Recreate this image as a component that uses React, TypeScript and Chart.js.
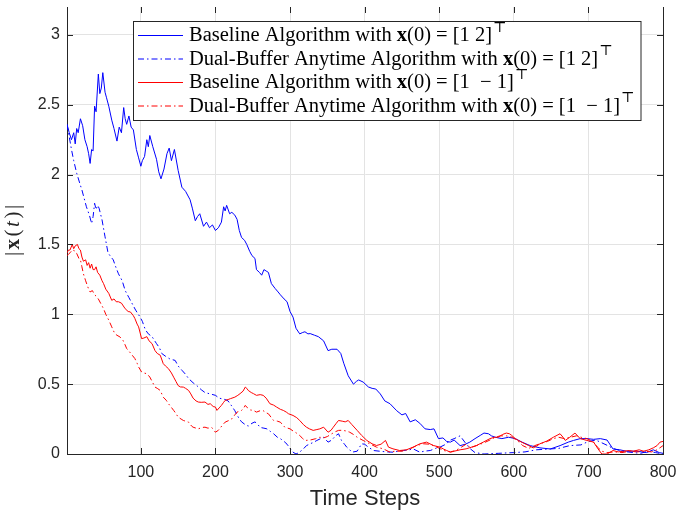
import React, { useEffect, useRef } from 'react';
import { Chart, registerables } from 'chart.js';

Chart.register(...registerables);

// ---------- data ----------
const xTickValues = [100, 200, 300, 400, 500, 600, 700, 800];
const yTickValues = [0, 0.5, 1, 1.5, 2, 2.5, 3];

const blueSolidSteps = [1, 4, 7, 10, 12, 14, 16, 19, 22, 25, 28, 30, 32, 34, 36, 38, 40, 43, 45, 47, 49, 52, 54, 57, 61, 64, 68, 71, 74, 77, 79, 81, 84, 87, 90, 94, 97, 100, 102, 105, 108, 110, 112, 116, 121, 124, 127, 131, 135, 138, 141, 145, 150, 155, 160, 166, 169, 173, 176, 179, 184, 188, 192, 196, 200, 204, 208, 211, 213, 215, 219, 222, 226, 229, 232, 235, 239, 242, 246, 249, 253, 255, 259, 262, 265, 268, 271, 275, 280, 284, 287, 292, 296, 300, 304, 308, 313, 317, 320, 324, 327, 333, 338, 345, 351, 356, 363, 368, 372, 378, 385, 389, 392, 398, 405, 410, 415, 421, 427, 434, 443, 450, 455, 461, 468, 474, 481, 488, 493, 499, 505, 510, 515, 520, 528, 535, 541, 548, 555, 560, 566, 570, 575, 584, 593, 602, 611, 622, 635, 649, 662, 673, 680, 689, 698, 707, 716, 725, 733, 742, 751, 765, 778, 787, 795, 800];
const blueSolidValues = [2.36, 2.30, 2.25, 2.30, 2.22, 2.33, 2.30, 2.40, 2.35, 2.25, 2.20, 2.15, 2.08, 2.18, 2.17, 2.49, 2.45, 2.72, 2.58, 2.62, 2.73, 2.59, 2.55, 2.49, 2.39, 2.33, 2.24, 2.34, 2.30, 2.48, 2.40, 2.36, 2.42, 2.34, 2.32, 2.18, 2.12, 2.06, 2.10, 2.13, 2.25, 2.20, 2.28, 2.20, 2.11, 2.02, 1.97, 2.04, 2.15, 2.19, 2.10, 2.18, 2.03, 1.91, 1.88, 1.82, 1.76, 1.67, 1.70, 1.72, 1.63, 1.66, 1.62, 1.64, 1.60, 1.62, 1.66, 1.77, 1.74, 1.78, 1.72, 1.73, 1.71, 1.68, 1.60, 1.55, 1.53, 1.50, 1.45, 1.42, 1.40, 1.32, 1.30, 1.28, 1.32, 1.31, 1.30, 1.22, 1.185, 1.16, 1.14, 1.11, 1.09, 1.02, 0.98, 0.90, 0.86, 0.87, 0.875, 0.86, 0.862, 0.85, 0.84, 0.81, 0.74, 0.75, 0.75, 0.72, 0.65, 0.56, 0.50, 0.52, 0.53, 0.515, 0.48, 0.47, 0.465, 0.43, 0.38, 0.36, 0.31, 0.28, 0.29, 0.23, 0.245, 0.22, 0.18, 0.175, 0.18, 0.11, 0.115, 0.09, 0.085, 0.10, 0.06, 0.07, 0.085, 0.11, 0.133, 0.15, 0.145, 0.13, 0.12, 0.11, 0.12, 0.11, 0.085, 0.06, 0.044, 0.036, 0.06, 0.085, 0.097, 0.11, 0.11, 0.105, 0.11, 0.10, 0.036, 0.03, 0.02, 0.02, 0.01, 0.03, 0.01, 0.005];

const blueDashSteps = [1, 4, 7, 10, 14, 18, 21, 24, 27, 31, 34, 36, 38, 40, 42, 44, 48, 52, 56, 60, 63, 67, 70, 75, 79, 84, 88, 93, 99, 102, 106, 110, 115, 121, 125, 128, 133, 139, 146, 150, 155, 160, 164, 170, 175, 181, 186, 193, 200, 205, 209, 213, 217, 221, 226, 231, 235, 240, 244, 249, 253, 257, 260, 265, 269, 274, 278, 283, 287, 292, 296, 300, 304, 308, 312, 318, 322, 327, 332, 336, 341, 345, 351, 356, 361, 365, 369, 373, 376, 380, 383, 390, 396, 400, 405, 412, 420, 430, 438, 445, 452, 460, 465, 474, 480, 488, 495, 501, 510, 514, 520, 528, 535, 541, 548, 560, 580, 600, 615, 630, 645, 660, 675, 690, 700, 710, 718, 726, 733, 745, 760, 770, 780, 790, 800];
const blueDashValues = [2.36, 2.27, 2.18, 2.10, 2.01, 1.94, 1.89, 1.83, 1.77, 1.71, 1.65, 1.70, 1.795, 1.75, 1.78, 1.76, 1.675, 1.555, 1.44, 1.41, 1.39, 1.33, 1.29, 1.24, 1.17, 1.12, 1.08, 1.03, 0.98, 0.95, 0.89, 0.86, 0.84, 0.79, 0.76, 0.72, 0.70, 0.68, 0.67, 0.63, 0.60, 0.57, 0.54, 0.51, 0.49, 0.46, 0.44, 0.43, 0.42, 0.40, 0.395, 0.39, 0.38, 0.35, 0.31, 0.26, 0.23, 0.21, 0.20, 0.22, 0.23, 0.21, 0.19, 0.185, 0.18, 0.16, 0.145, 0.12, 0.11, 0.09, 0.07, 0.04, 0.013, 0.0, 0.01, 0.037, 0.06, 0.073, 0.085, 0.097, 0.11, 0.12, 0.085, 0.10, 0.13, 0.145, 0.097, 0.07, 0.049, 0.03, 0.013, 0.02, 0.073, 0.07, 0.049, 0.025, 0.02, 0.015, 0.013, 0.02, 0.025, 0.03, 0.037, 0.013, 0.02, 0.025, 0.04, 0.049, 0.073, 0.097, 0.11, 0.13, 0.08, 0.04, 0.01, 0.0, 0.005, 0.01, 0.015, 0.03, 0.035, 0.04, 0.06, 0.065, 0.09, 0.10, 0.08, 0.06, 0.04, 0.02, 0.01, 0.005, 0.02, 0.01, 0.0];

const redSolidSteps = [1, 3, 5, 8, 10, 12, 15, 17, 19, 21, 23, 26, 28, 30, 32, 34, 36, 38, 40, 42, 45, 48, 50, 53, 57, 61, 64, 67, 70, 74, 79, 83, 86, 90, 92, 95, 97, 101, 104, 108, 111, 115, 119, 122, 126, 130, 133, 137, 141, 144, 147, 150, 153, 157, 160, 164, 167, 170, 174, 177, 181, 186, 190, 193, 197, 200, 202, 205, 208, 211, 213, 217, 220, 226, 230, 233, 237, 240, 242, 244, 248, 251, 255, 260, 264, 268, 273, 278, 282, 287, 291, 295, 298, 304, 309, 313, 318, 322, 326, 331, 336, 340, 345, 351, 355, 358, 362, 365, 370, 374, 378, 383, 390, 396, 403, 410, 416, 422, 428, 432, 438, 447, 456, 465, 474, 483, 492, 501, 506, 510, 515, 520, 528, 536, 541, 550, 559, 568, 574, 579, 585, 590, 594, 597, 602, 606, 615, 620, 626, 630, 635, 644, 653, 662, 666, 669, 675, 682, 689, 698, 707, 713, 718, 725, 733, 740, 747, 755, 760, 768, 774, 781, 787, 792, 796, 800];
const redSolidValues = [1.44, 1.46, 1.46, 1.50, 1.47, 1.49, 1.50, 1.47, 1.46, 1.41, 1.38, 1.39, 1.35, 1.37, 1.33, 1.36, 1.32, 1.32, 1.34, 1.30, 1.28, 1.24, 1.22, 1.18, 1.15, 1.10, 1.11, 1.09, 1.09, 1.08, 1.04, 1.02, 1.017, 0.99, 0.97, 0.93, 0.91, 0.826, 0.83, 0.84, 0.81, 0.79, 0.74, 0.72, 0.707, 0.647, 0.63, 0.611, 0.58, 0.55, 0.52, 0.49, 0.48, 0.479, 0.47, 0.455, 0.43, 0.40, 0.38, 0.372, 0.37, 0.372, 0.355, 0.36, 0.34, 0.336, 0.312, 0.33, 0.348, 0.37, 0.384, 0.39, 0.396, 0.407, 0.42, 0.432, 0.45, 0.479, 0.47, 0.455, 0.44, 0.432, 0.42, 0.425, 0.42, 0.40, 0.36, 0.35, 0.336, 0.32, 0.312, 0.30, 0.288, 0.276, 0.26, 0.24, 0.21, 0.192, 0.18, 0.169, 0.175, 0.18, 0.192, 0.156, 0.17, 0.192, 0.22, 0.24, 0.235, 0.23, 0.24, 0.21, 0.169, 0.133, 0.097, 0.073, 0.061, 0.07, 0.097, 0.049, 0.037, 0.025, 0.03, 0.049, 0.073, 0.085, 0.061, 0.049, 0.035, 0.025, 0.013, 0.02, 0.03, 0.037, 0.045, 0.061, 0.085, 0.11, 0.12, 0.12, 0.14, 0.15, 0.145, 0.134, 0.11, 0.097, 0.073, 0.06, 0.044, 0.055, 0.073, 0.092, 0.12, 0.145, 0.12, 0.097, 0.12, 0.15, 0.11, 0.097, 0.085, 0.036, 0.0, 0.0, 0.025, 0.015, 0.02, 0.025, 0.02, 0.03, 0.02, 0.03, 0.044, 0.06, 0.085, 0.09];

const redDashSteps = [1, 3, 5, 8, 10, 12, 14, 17, 19, 21, 23, 26, 28, 30, 32, 35, 38, 40, 43, 46, 50, 53, 57, 61, 65, 68, 72, 76, 79, 81, 85, 88, 92, 95, 97, 101, 104, 108, 112, 116, 119, 122, 126, 130, 134, 137, 140, 144, 147, 150, 154, 157, 160, 164, 168, 170, 174, 177, 182, 186, 190, 195, 200, 204, 209, 213, 218, 222, 226, 229, 235, 238, 240, 243, 247, 251, 255, 260, 264, 268, 271, 275, 278, 283, 287, 290, 293, 297, 300, 304, 307, 313, 317, 320, 327, 334, 340, 345, 350, 356, 361, 365, 370, 375, 380, 385, 390, 398, 407, 416, 425, 434, 440, 450, 461, 470, 479, 488, 497, 506, 515, 522, 530, 536, 542, 550, 560, 568, 575, 582, 590, 598, 606, 612, 620, 628, 636, 645, 653, 660, 668, 676, 684, 690, 698, 706, 712, 718, 725, 735, 745, 755, 765, 775, 785, 792, 800];
const redDashValues = [1.42, 1.43, 1.44, 1.46, 1.46, 1.44, 1.436, 1.40, 1.39, 1.34, 1.29, 1.24, 1.21, 1.18, 1.16, 1.17, 1.14, 1.13, 1.11, 1.08, 1.04, 1.00, 0.958, 0.91, 0.862, 0.85, 0.838, 0.814, 0.78, 0.755, 0.73, 0.71, 0.683, 0.65, 0.623, 0.587, 0.58, 0.575, 0.551, 0.51, 0.479, 0.47, 0.455, 0.407, 0.385, 0.36, 0.34, 0.312, 0.29, 0.264, 0.25, 0.24, 0.235, 0.228, 0.20, 0.192, 0.185, 0.18, 0.19, 0.192, 0.185, 0.19, 0.156, 0.17, 0.204, 0.228, 0.24, 0.252, 0.28, 0.30, 0.312, 0.33, 0.348, 0.33, 0.315, 0.312, 0.30, 0.31, 0.31, 0.295, 0.288, 0.26, 0.24, 0.235, 0.228, 0.21, 0.192, 0.185, 0.18, 0.165, 0.156, 0.133, 0.11, 0.097, 0.10, 0.109, 0.12, 0.115, 0.125, 0.145, 0.16, 0.169, 0.17, 0.165, 0.156, 0.14, 0.12, 0.097, 0.073, 0.049, 0.037, 0.013, 0.02, 0.02, 0.037, 0.061, 0.073, 0.07, 0.049, 0.025, 0.015, 0.025, 0.05, 0.07, 0.045, 0.06, 0.08, 0.10, 0.12, 0.13, 0.13, 0.12, 0.09, 0.06, 0.04, 0.06, 0.075, 0.09, 0.11, 0.12, 0.11, 0.12, 0.13, 0.12, 0.11, 0.09, 0.05, 0.02, 0.01, 0.015, 0.01, 0.02, 0.015, 0.02, 0.015, 0.03, 0.06];

type Seg = { t: string; bold?: boolean; italic?: boolean; sup?: boolean };
const legendRows: Seg[][] = [
  [{ t: 'Baseline Algorithm with ' }, { t: 'x', bold: true }, { t: '(0) = [1 2]' }, { t: '⊤', sup: true }],
  [{ t: 'Dual-Buffer Anytime Algorithm with ' }, { t: 'x', bold: true }, { t: '(0) = [1 2]' }, { t: '⊤', sup: true }],
  [{ t: 'Baseline Algorithm with ' }, { t: 'x', bold: true }, { t: '(0) = [1  − 1]' }, { t: '⊤', sup: true }],
  [{ t: 'Dual-Buffer Anytime Algorithm with ' }, { t: 'x', bold: true }, { t: '(0) = [1  − 1]' }, { t: '⊤', sup: true }],
];
const yTitle: Seg[] = [{ t: '|' }, { t: 'x', bold: true }, { t: '(' }, { t: 't', italic: true }, { t: ')' }, { t: '|' }];
const xTitle = 'Time Steps';

const seriesColors = ['#0000ff', '#0000ff', '#ff0000', '#ff0000'];
const seriesDashed = [false, true, false, true];
const DASHDOT = [6, 3, 1.5, 3];

const SERIF = '"Liberation Serif", "DejaVu Serif", serif';
const SANS = '"Liberation Sans", Arial, sans-serif';
const AXIS = '#262626';

function toPoints(steps: number[], vals: number[]) {
  return steps.map((s, i) => ({ x: s, y: vals[i] }));
}

function segFont(s: Seg, size: number) {
  const sz = s.sup ? size * 0.7 : size;
  return `${s.italic ? 'italic ' : ''}${s.bold ? 'bold ' : ''}${sz}px ${SERIF}`;
}

function segWidth(ctx: CanvasRenderingContext2D, segs: Seg[], size: number, gap: number) {
  let w = 0;
  segs.forEach((s, i) => {
    ctx.font = segFont(s, size);
    w += ctx.measureText(s.t).width + (s.sup ? 1 : 0) + (i > 0 ? gap : 0);
  });
  return w;
}

function drawSegs(ctx: CanvasRenderingContext2D, segs: Seg[], x: number, y: number, size: number, gap = 0) {
  let cx = x;
  segs.forEach((s, i) => {
    ctx.font = segFont(s, size);
    const yy = s.sup ? y - size * 0.4 : y;
    const xx = (s.sup ? cx + 1 : cx) + (i > 0 ? gap : 0);
    ctx.fillText(s.t, xx, yy);
    cx = xx + ctx.measureText(s.t).width;
  });
}

const decorPlugin = {
  id: 'decor',
  afterDraw(chart: any) {
    const ctx: CanvasRenderingContext2D = chart.ctx;
    const { left, right, top, bottom } = chart.chartArea;
    const xs = chart.scales.x;
    const ys = chart.scales.y;
    ctx.save();
    // right axis line
    ctx.strokeStyle = AXIS;
    ctx.lineWidth = 1;
    ctx.beginPath();
    ctx.moveTo(Math.round(right) + 0.5, top);
    ctx.lineTo(Math.round(right) + 0.5, bottom);
    ctx.stroke();
    // inward ticks
    ctx.beginPath();
    for (const v of xTickValues) {
      const px = Math.round(xs.getPixelForValue(v)) + 0.5;
      ctx.moveTo(px, bottom);
      ctx.lineTo(px, bottom - 6);
      ctx.moveTo(px, top);
      ctx.lineTo(px, top + 6);
    }
    for (const v of yTickValues) {
      const py = Math.round(ys.getPixelForValue(v)) + 0.5;
      ctx.moveTo(left, py);
      ctx.lineTo(left + 6, py);
      ctx.moveTo(right, py);
      ctx.lineTo(right - 6, py);
    }
    ctx.stroke();

    // legend
    const lx = 133.5, ly = 21.5, lw = 507.5, lh = 99;
    ctx.fillStyle = '#ffffff';
    ctx.fillRect(lx, ly, lw, lh);
    ctx.strokeStyle = AXIS;
    ctx.lineWidth = 1;
    ctx.strokeRect(lx, ly, lw, lh);
    const rowY = [35, 58.5, 82, 105.5];
    legendRows.forEach((segs, i) => {
      const y = rowY[i];
      ctx.strokeStyle = seriesColors[i];
      ctx.lineWidth = 1;
      ctx.setLineDash(seriesDashed[i] ? DASHDOT : []);
      ctx.beginPath();
      ctx.moveTo(138, y + 0.5);
      ctx.lineTo(183, y + 0.5);
      ctx.stroke();
      ctx.setLineDash([]);
      ctx.fillStyle = '#000000';
      ctx.textBaseline = 'middle';
      ctx.textAlign = 'left';
      drawSegs(ctx, segs, 189, y + 1, 20.5);
    });

    // x title
    ctx.fillStyle = AXIS;
    ctx.textAlign = 'center';
    ctx.textBaseline = 'alphabetic';
    ctx.font = `22px ${SANS}`;
    ctx.fillText(xTitle, (left + right) / 2, 505);

    // y title
    ctx.translate(19, (top + bottom) / 2);
    ctx.rotate(-Math.PI / 2);
    ctx.textAlign = 'left';
    ctx.textBaseline = 'alphabetic';
    const w = segWidth(ctx, yTitle, 21, 2.5);
    drawSegs(ctx, yTitle, -w / 2, 0, 21, 2.5);
    ctx.restore();
  },
};

export default function App() {
  const ref = useRef<HTMLCanvasElement | null>(null);
  useEffect(() => {
    document.body.style.margin = '0';
    const canvas = ref.current!;
    const seriesData = [
      toPoints(blueSolidSteps, blueSolidValues),
      toPoints(blueDashSteps, blueDashValues),
      toPoints(redSolidSteps, redSolidValues),
      toPoints(redDashSteps, redDashValues),
    ];
    const chart = new Chart(canvas, {
      type: 'line',
      data: {
        datasets: seriesData.map((d, i) => ({
          label: 'series' + i,
          data: d,
          borderColor: seriesColors[i],
          borderWidth: 1,
          borderDash: seriesDashed[i] ? DASHDOT : [],
          pointRadius: 0,
          tension: 0,
          fill: false,
          order: 3 - i,
        })),
      },
      options: {
        responsive: false,
        animation: false,
        events: [],
        layout: { padding: { top: 7, right: 15, left: 0, bottom: 0 } },
        plugins: { legend: { display: false }, tooltip: { enabled: false }, title: { display: false } },
        scales: {
          x: {
            type: 'linear',
            min: 1,
            max: 800,
            afterBuildTicks: (s: any) => {
              s.ticks = xTickValues.map((v) => ({ value: v }));
            },
            afterFit: (s: any) => {
              s.height = 60;
              s.paddingLeft = 0;
              s.paddingRight = 0;
            },
            grid: { color: '#e3e3e3', lineWidth: 1, drawTicks: false },
            border: { display: true, color: AXIS, width: 1 },
            ticks: {
              color: AXIS,
              font: { family: SANS, size: 16 },
              padding: 9,
              maxRotation: 0,
              autoSkip: false,
              callback: (v: any) => String(v),
            },
          },
          y: {
            type: 'linear',
            min: 0,
            max: 3.2,
            afterBuildTicks: (s: any) => {
              s.ticks = yTickValues.map((v) => ({ value: v }));
            },
            afterFit: (s: any) => {
              s.width = 67;
              s.paddingTop = 0;
              s.paddingBottom = 0;
            },
            grid: { color: '#e3e3e3', lineWidth: 1, drawTicks: false },
            border: { display: true, color: AXIS, width: 1 },
            ticks: {
              color: AXIS,
              font: { family: SANS, size: 16 },
              padding: 7,
              autoSkip: false,
              callback: (v: any) => String(v),
            },
          },
        },
      },
      plugins: [decorPlugin],
    });
    return () => chart.destroy();
  }, []);
  return (
    <div style={{ position: 'absolute', left: 0, top: 0, width: 678, height: 514 }}>
      <canvas ref={ref} width={678} height={514} />
    </div>
  );
}
